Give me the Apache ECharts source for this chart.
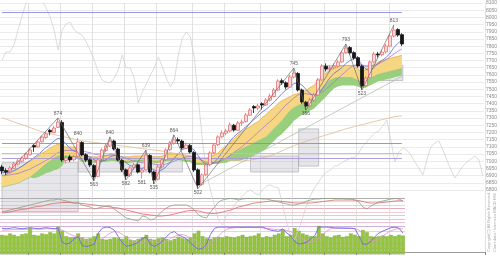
<!DOCTYPE html>
<html><head><meta charset="utf-8">
<script src="https://cdn.jsdelivr.net/npm/echarts@6/dist/echarts.min.js"></script>
<style>html,body{margin:0;padding:0;background:#fff}#c{width:500px;height:258px}</style>
</head><body><div id="c"></div>
<script>
// ---- data ----
const monthStart = [7,15,23,31,39,48,56,65,73,81,89,97];
const open  = [6960,6935,6925,6950,6980,7000,7020,7045,7110,7100,7135,7165,7215,7200,7235,7270,7005,7030,7010,7035,7130,7045,7010,6970,6895,7010,7075,7105,7140,7085,7005,6940,6900,6955,6975,6925,6940,7040,6925,6875,6960,7010,7080,7125,7150,7140,7090,7110,7060,6940,6840,6905,6975,7060,7115,7170,7195,7210,7250,7215,7265,7275,7320,7380,7370,7400,7390,7425,7450,7495,7560,7545,7515,7585,7610,7495,7410,7385,7425,7460,7565,7660,7640,7650,7660,7690,7755,7790,7755,7720,7660,7525,7580,7690,7745,7740,7760,7800,7870,7915,7880];
const close = [6932,6925,6953,6981,7002,7023,7050,7078,7099,7134,7169,7190,7204,7231,7273,7009,7023,7009,7030,7134,7044,7009,6974,6891,7009,7078,7106,7141,7085,7009,6939,6898,6953,6974,6925,6939,7044,6925,6870,6960,7009,7078,7127,7148,7141,7092,7113,7064,6939,6835,6905,6974,7058,7113,7169,7197,7210,7252,7217,7266,7273,7322,7356,7370,7384,7391,7426,7453,7495,7558,7544,7516,7586,7613,7495,7412,7384,7426,7461,7565,7662,7641,7648,7662,7690,7753,7787,7753,7718,7662,7523,7579,7690,7745,7739,7759,7801,7871,7912,7877,7815];
const low   = [6910,6905,6915,6945,6970,6990,7010,7040,7065,7095,7130,7155,7180,7195,7230,6995,6985,6995,7000,7030,7035,6995,6960,6863,6890,7000,7065,7100,7075,7000,6925,6870,6890,6940,6915,6880,6935,6915,6842,6865,6950,7000,7070,7115,7120,7080,7085,7055,6925,6810,6830,6895,6965,7050,7105,7160,7180,7200,7205,7210,7245,7270,7315,7335,7355,7360,7385,7415,7445,7490,7530,7500,7510,7575,7485,7400,7356,7375,7415,7455,7560,7625,7620,7640,7650,7685,7745,7740,7705,7650,7495,7515,7575,7680,7720,7730,7750,7795,7860,7865,7800];
const high  = [6975,6950,6965,6995,7015,7035,7060,7090,7120,7145,7180,7205,7225,7245,7301,7285,7040,7045,7045,7162,7140,7055,7020,6980,7020,7090,7120,7169,7150,7095,7015,6950,6965,6990,6985,6950,7078,7050,6935,6975,7020,7090,7140,7183,7165,7150,7130,7120,7070,6950,6915,6985,7070,7125,7180,7215,7225,7270,7260,7280,7290,7335,7370,7390,7400,7410,7440,7470,7510,7570,7575,7555,7600,7648,7620,7505,7420,7440,7475,7580,7675,7680,7665,7680,7705,7765,7815,7800,7765,7730,7670,7590,7700,7760,7760,7775,7815,7885,7947,7925,7890];
const cloudTop = [6896,6910,6917,6931,6945,6966,6980,7001,7015,7036,7057,7071,7092,7106,7120,7106,7099,7099,7099,7099,7036,7036,7029,7029,7029,7036,7036,7043,7043,7036,7029,7029,7029,7036,7036,7036,7043,7036,7029,7029,7036,7043,7050,7050,7050,7043,7036,7036,7029,7022,7022,7022,7029,7043,7057,7085,7106,7134,7155,7183,7204,7225,7239,7260,7274,7302,7323,7351,7372,7400,7421,7435,7449,7463,7470,7484,7491,7512,7526,7561,7589,7610,7631,7645,7659,7666,7666,7666,7659,7638,7617,7638,7659,7673,7687,7701,7708,7715,7722,7729,7736];
const cloudMid = [6819,6826,6833,6840,6847,6861,6875,6889,6910,6931,6959,6980,7001,7022,7036,7036,7036,7036,7036,7036,7008,7008,7008,7001,7001,7008,7008,7015,7015,7008,7001,7001,7001,7008,7008,7008,7015,7008,7001,7001,7008,7015,7015,7022,7022,7015,7008,7008,6987,6987,6987,6987,6994,6994,7001,7015,7022,7043,7057,7071,7085,7099,7113,7127,7141,7155,7169,7197,7225,7253,7281,7316,7351,7372,7386,7400,7407,7428,7442,7477,7505,7533,7561,7575,7582,7582,7582,7582,7575,7561,7547,7561,7575,7589,7603,7610,7617,7624,7631,7638,7645];
const cloudBot = [6819,6826,6833,6840,6847,6861,6875,6889,6882,6889,6903,6917,6924,6938,6945,6966,7015,7015,7015,7015,6994,6994,6994,6987,6987,6994,6994,7001,7001,6994,6987,6987,6987,6994,6994,6994,7001,6994,6987,6987,6994,7001,7001,7008,7008,7001,6994,6994,6973,6973,6973,6973,6980,6980,6980,6987,6987,7001,7001,7001,7008,7015,7029,7043,7057,7071,7085,7113,7141,7169,7190,7218,7246,7281,7302,7323,7330,7351,7365,7393,7421,7449,7477,7505,7519,7526,7526,7526,7526,7519,7505,7512,7526,7540,7554,7561,7568,7575,7582,7589,7596];
const maShort = [6920,6922,6925,6935,6950,6965,6985,7005,7025,7045,7070,7095,7115,7140,7160,7150,7120,7090,7070,7060,7050,7040,7030,7010,7000,7000,7010,7030,7040,7035,7010,6990,6970,6960,6955,6950,6960,6955,6940,6930,6940,6960,6990,7020,7050,7080,7090,7095,7080,7040,7000,6980,6975,6990,7020,7060,7100,7140,7170,7195,7215,7240,7265,7290,7315,7340,7360,7385,7410,7440,7470,7495,7515,7540,7545,7530,7500,7470,7455,7465,7500,7540,7580,7610,7630,7650,7680,7700,7715,7710,7670,7640,7630,7650,7680,7700,7720,7750,7790,7820,7840];
const maMid = [6900,6900,6905,6910,6915,6925,6935,6945,6960,6975,6990,7005,7020,7040,7060,7070,7075,7075,7075,7075,7070,7065,7060,7050,7045,7040,7040,7045,7045,7040,7030,7020,7010,7000,6995,6990,6990,6985,6980,6975,6975,6980,6990,7000,7010,7020,7030,7035,7030,7020,7005,6995,6990,6990,6995,7005,7020,7040,7060,7080,7100,7125,7150,7175,7200,7225,7250,7275,7300,7330,7360,7390,7415,7440,7460,7470,7470,7465,7460,7465,7480,7500,7525,7550,7575,7600,7625,7650,7665,7675,7670,7660,7660,7665,7675,7690,7705,7725,7745,7765,7780];
const maLong = [7302,7293,7283,7273,7263,7254,7244,7234,7224,7214,7204,7198,7192,7186,7180,7173,7167,7160,7154,7148,7141,7138,7134,7131,7127,7124,7120,7117,7113,7110,7106,7103,7099,7096,7092,7089,7085,7082,7078,7075,7071,7066,7061,7056,7051,7046,7042,7037,7032,7027,7022,7020,7018,7016,7014,7012,7010,7008,7006,7004,7001,7004,7008,7012,7018,7024,7030,7036,7048,7060,7072,7084,7096,7108,7120,7129,7138,7147,7156,7165,7173,7182,7190,7199,7208,7216,7225,7232,7240,7247,7254,7261,7268,7275,7282,7289,7295,7302,7309,7313,7316];
const compare = [192,200,200,207,222,236,249,255,257,256,252,244,235,222,202,222,228,230,222,219,217,210,202,192,180,172,170,169,174,182,197,184,184,174,149,160,168,177,184,195,185,174,165,172,197,214,220,215,194,152,112,80,62,47,32,27,37,40,47,52,56,60,62,59,57,62,66,67,65,64,47,30,17,12,22,34,47,57,64,70,76,80,82,86,87,90,92,94,95,99,106,110,115,119,121,126,132,112,90,100,104,102,97,90,84,77,92,105,109,111,102,92,82,74,80,86,90,93,96,92,76];
const osc1 = [0,10,20,30,40,50,60,70,80,90,100,110,120,120,130,120,110,100,90,90,70,60,50,30,40,50,60,60,30,0,-30,-60,-70,-80,-90,-40,-50,-80,-70,-30,10,40,60,70,70,70,70,50,20,-30,-50,-60,0,50,100,120,130,135,130,120,130,135,135,135,135,130,130,120,110,100,90,80,70,70,80,90,110,120,130,130,135,135,135,135,135,135,130,130,120,100,50,30,60,80,100,110,120,130,135,130,110];
const osc2 = [-10,-5,0,10,20,25,30,40,50,55,60,70,80,85,90,95,95,95,90,90,85,80,75,70,65,60,55,50,45,40,30,20,10,0,-10,-20,-25,-30,-35,-40,-40,-35,-30,-20,-10,0,10,15,15,10,0,-10,-15,-15,-10,0,10,20,35,50,60,70,80,90,95,100,105,110,110,110,105,100,95,90,90,90,90,90,95,100,105,110,115,120,120,120,120,120,118,115,105,95,90,90,92,95,100,105,110,112,112];
const rsi = [92,90,92,94,92,90,92,94,92,90,92,94,92,90,92,42,35,40,55,62,30,27,30,35,75,92,96,94,85,62,40,28,30,35,42,55,60,35,27,35,45,62,75,80,68,62,54,40,27,17,20,35,70,92,96,96,96,95,96,96,95,96,96,95,96,96,90,85,83,81,90,75,65,45,35,38,42,55,65,96,96,96,95,93,92,92,92,92,90,65,35,35,45,62,75,82,88,94,96,92,75];
const rsiSignal = [85,85,86,87,87,88,88,88,89,89,89,90,90,90,90,85,78,70,65,60,55,50,45,42,45,55,65,75,80,78,70,60,50,42,38,40,45,48,45,40,40,45,55,62,68,70,65,58,50,40,30,28,35,50,65,78,88,92,94,95,95,95,95,95,95,93,92,90,88,87,86,84,80,72,62,52,45,42,45,55,70,82,90,93,94,94,93,92,91,85,72,58,48,48,55,65,75,83,88,91,90];
const volume = [140,135,150,140,130,145,150,190,140,135,150,145,160,150,200,170,130,120,125,150,120,110,115,130,150,110,105,110,120,115,110,130,105,100,110,120,140,110,105,115,120,110,100,110,125,115,110,120,150,170,130,115,110,120,125,120,130,125,120,130,140,125,130,135,150,120,130,125,140,150,180,130,140,190,170,150,140,130,130,210,150,130,120,135,140,125,130,150,140,130,175,160,130,125,130,135,130,140,130,140,135];
const pivotIdx  = [14,19,23,27,31,35,36,38,43,49,73,76,86,90,98];
const pivotSide = ['H','H','L','H','L','L','H','L','H','L','H','L','H','L','H'];
const pivotText = ['874','840','563','840','582','581','639','535','864','502','745','356','793','523','813'];
const zigIdx  = [1,14,23,27,31,36,38,43,49,73,76,86,90,98];
const zigSide = ['L','H','L','H','L','H','L','H','L','H','L','H','L','H'];
const levelValues = [8037, 7127, 7057, 7022];
const trendLines = [[49, 6830, 100, 7590]];
const zones = [[0,19,6650,6990],[19,45,6925,7030],[62,74,6925,7036],[74,79,6966,7225],[80,100,7561,7666]];

// ---- build ----
const N = compare.length;
const categories = Array.from({length: N}, (_, i) => String(i + 1));
const M = close.length;
const candleCats = categories.slice(0, M);
const isMonth = (i) => monthStart.indexOf(i) >= 0;
const ohlc = close.map((c, i) => [open[i], c, low[i], high[i]]);
const greenBand = cloudMid.map((m, i) => m - cloudBot[i]);
const yellowBand = cloudTop.map((t, i) => t - cloudMid[i]);
const zig = new Array(M).fill(null);
zigIdx.forEach((ix, k) => { zig[ix] = zigSide[k] === 'H' ? high[ix] : low[ix]; });
const levelColors = ['#8c8ce6', '#e07070', '#b8cc98', '#a896d6'];
const FONT = 'Liberation Sans, DejaVu Sans, sans-serif';

const chart = echarts.init(document.getElementById('c'), null, {renderer: 'canvas'});
const lineBase = {type: 'line', symbol: 'none', showSymbol: false, silent: true};
chart.setOption({
  animation: false,
  backgroundColor: '#fff',
  textStyle: {fontFamily: FONT},
  grid: [
    {left: 0, right: 15, top: 3, height: 187},
    {left: 0, right: 15, top: 3, bottom: 4},
    {left: 0, right: 95, top: 198, height: 28},
    {left: 0, right: 95, top: 226, height: 28}
  ],
  xAxis: [
    {type: 'category', gridIndex: 0, data: categories, show: false, boundaryGap: true},
    {type: 'category', gridIndex: 1, data: categories, boundaryGap: true,
     axisLine: {show: true, lineStyle: {color: '#9a9a9a', width: 1}},
     axisTick: {show: true, interval: (i) => isMonth(i), length: 3, lineStyle: {color: '#888'}},
     axisLabel: {show: false},
     splitLine: {show: true, interval: (i) => isMonth(i), lineStyle: {color: '#d6d6d6', width: 0.7}}},
    {type: 'category', gridIndex: 2, data: candleCats, show: false, boundaryGap: true},
    {type: 'category', gridIndex: 3, data: candleCats, show: false, boundaryGap: true}
  ],
  yAxis: [
    {type: 'value', gridIndex: 0, position: 'right', min: 6800, max: 8100, interval: 50,
     axisLine: {show: false}, axisTick: {show: false},
     axisLabel: {fontSize: 5, color: '#8a8a8a', margin: 2, fontFamily: FONT, formatter: (v) => String(v)},
     splitLine: {show: true, lineStyle: {color: '#e2e2e2', width: 0.7}}},
    {type: 'value', gridIndex: 1, min: 6355, max: 8100, show: false},
    {type: 'value', gridIndex: 1, min: -2, max: 249, show: false},
    {type: 'value', gridIndex: 2, min: -140, max: 140, interval: 35,
     axisLine: {show: false}, axisTick: {show: false}, axisLabel: {show: false},
     splitLine: {show: true, lineStyle: {width: 0.7, color: ['#f0b8c8','#e8a8c0','#c8a8e8','#e8a8c0','#f0b8c8','#d88898','#f0b8c8','#f0c0d0','#8a8a8a']}}},
    {type: 'value', gridIndex: 3, min: 0, max: 100, interval: 20,
     axisLine: {show: false}, axisTick: {show: false}, axisLabel: {show: false},
     splitLine: {show: true, lineStyle: {width: 0.7, color: ['#d0d0d0','#f0b8c8','#f0b8c8','#e8a0b8','#f0b8c8','#c0a0e0']}}},
    {type: 'value', gridIndex: 3, min: 0, max: 205, show: false}
  ],
  graphic: [
    {type: 'text', x: 489, y: 252, rotation: Math.PI / 2, silent: true,
     style: {text: 'Copyright(C) All Rights Reserved.', fontSize: 4, fill: '#aaa', align: 'left', verticalAlign: 'middle', fontFamily: FONT}},
    {type: 'text', x: 495, y: 252, rotation: Math.PI / 2, silent: true,
     style: {text: 'Chart data / Ichimoku MACD RSI', fontSize: 4, fill: '#aaa', align: 'left', verticalAlign: 'middle', fontFamily: FONT}}
  ],
  series: [
    {type: 'custom', xAxisIndex: 1, yAxisIndex: 1, z: 1, silent: true, clip: false,
     data: zones, encode: {x: [0, 1], y: [2, 3]},
     renderItem: (params, api) => {
       const a = api.coord([api.value(0), api.value(3)]);
       const b = api.coord([api.value(1), api.value(2)]);
       return {type: 'rect', shape: {x: a[0], y: a[1], width: b[0] - a[0], height: b[1] - a[1]},
               style: {fill: 'rgba(178,178,190,0.33)', stroke: '#a4a4ae', lineWidth: 0.6}};
     }},
    Object.assign({}, lineBase, {xAxisIndex: 1, yAxisIndex: 2, z: 2, data: compare,
     lineStyle: {color: '#d2d2d2', width: 0.8}}),
    Object.assign({}, lineBase, {xAxisIndex: 0, yAxisIndex: 0, z: 3, stack: 'kumo', data: cloudBot,
     lineStyle: {width: 0}}),
    Object.assign({}, lineBase, {xAxisIndex: 0, yAxisIndex: 0, z: 3, stack: 'kumo', data: greenBand,
     lineStyle: {color: '#7cb862', width: 0.5}, areaStyle: {color: '#98cf7c', opacity: 1}}),
    Object.assign({}, lineBase, {xAxisIndex: 0, yAxisIndex: 0, z: 3, stack: 'kumo', data: yellowBand,
     lineStyle: {color: '#e6a63c', width: 0.7}, areaStyle: {color: '#f7d683', opacity: 1}}),
    Object.assign({}, lineBase, {xAxisIndex: 0, yAxisIndex: 0, z: 4, data: maLong,
     lineStyle: {color: '#dcbc94', width: 0.8}}),
    Object.assign({}, lineBase, {xAxisIndex: 0, yAxisIndex: 0, z: 4, data: maMid,
     lineStyle: {color: '#a97bcc', width: 0.8}}),
    Object.assign({}, lineBase, {xAxisIndex: 0, yAxisIndex: 0, z: 4, data: maShort,
     lineStyle: {color: '#5a6ad8', width: 0.8}}),
    {type: 'candlestick', xAxisIndex: 0, yAxisIndex: 0, z: 5, silent: true, barWidth: 3,
     data: ohlc,
     itemStyle: {color: '#fcdcdc', color0: '#161616', borderColor: '#ea7070', borderColor0: '#161616', borderWidth: 0.8},
     markLine: {silent: true, symbol: ['none', 'none'], label: {show: false}, animation: false,
       data: levelValues.map((v, k) => [
         {coord: [0, v], lineStyle: {color: levelColors[k], width: 0.9, type: 'solid'}},
         {coord: [M - 1, v]}
       ]).concat(trendLines.map(t => [
         {coord: [t[0], t[1]], lineStyle: {color: '#a9b9a0', width: 0.7, type: 'solid'}},
         {coord: [t[2], t[3]]}
       ]))}},
    Object.assign({}, lineBase, {xAxisIndex: 0, yAxisIndex: 0, z: 6, data: zig, connectNulls: true,
     lineStyle: {color: '#6a6a6a', width: 0.7}}),
    {type: 'scatter', xAxisIndex: 0, yAxisIndex: 0, z: 7, silent: true, symbolSize: 1,
     itemStyle: {color: 'rgba(0,0,0,0)'},
     data: pivotIdx.map((ix, k) => ({
       value: [ix, pivotSide[k] === 'H' ? high[ix] : low[ix]],
       label: {show: true, formatter: pivotText[k], position: pivotSide[k] === 'H' ? 'top' : 'bottom',
               distance: 1, fontSize: 5, color: '#333', fontFamily: FONT}
     }))},
    Object.assign({}, lineBase, {xAxisIndex: 2, yAxisIndex: 3, z: 4, data: osc2,
     lineStyle: {color: '#d86a6a', width: 0.8}}),
    Object.assign({}, lineBase, {xAxisIndex: 2, yAxisIndex: 3, z: 4, data: osc1,
     lineStyle: {color: '#8e9e86', width: 0.8}}),
    {type: 'bar', xAxisIndex: 3, yAxisIndex: 5, z: 2, silent: true, data: volume,
     barCategoryGap: '8%', itemStyle: {color: '#94c63c', borderColor: '#6f9e2a', borderWidth: 0.3}},
    Object.assign({}, lineBase, {xAxisIndex: 3, yAxisIndex: 4, z: 4, data: rsiSignal,
     lineStyle: {color: '#e890c8', width: 0.8}}),
    Object.assign({}, lineBase, {xAxisIndex: 3, yAxisIndex: 4, z: 4, data: rsi,
     lineStyle: {color: '#7565e0', width: 0.9}})
  ]
});
</script>
</body></html>
